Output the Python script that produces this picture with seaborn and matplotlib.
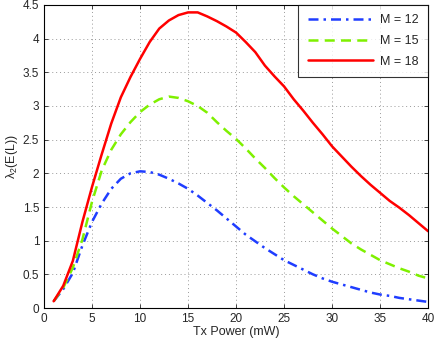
import numpy as np
import pandas as pd
import seaborn as sns
import matplotlib
matplotlib.use("Agg")
import matplotlib.pyplot as plt

# Tx power (mW)
tx_power = list(range(1, 41))

m12 = [0.10, 0.28, 0.52, 0.93, 1.28, 1.55, 1.77, 1.92, 2.00, 2.03,
       2.02, 1.98, 1.92, 1.85, 1.77, 1.67, 1.56, 1.45, 1.33, 1.21,
       1.09, 0.99, 0.89, 0.80, 0.71, 0.64, 0.57, 0.50, 0.44, 0.39,
       0.35, 0.31, 0.27, 0.23, 0.20, 0.18, 0.15, 0.13, 0.11, 0.09]

m15 = [0.10, 0.30, 0.60, 1.02, 1.58, 2.04, 2.35, 2.58, 2.76, 2.91,
       3.02, 3.10, 3.14, 3.12, 3.07, 3.00, 2.90, 2.76, 2.63, 2.51,
       2.37, 2.22, 2.08, 1.93, 1.79, 1.66, 1.54, 1.42, 1.30, 1.18,
       1.07, 0.96, 0.87, 0.79, 0.71, 0.65, 0.59, 0.54, 0.48, 0.44]

m18 = [0.10, 0.33, 0.70, 1.28, 1.80, 2.28, 2.74, 3.13, 3.43, 3.70,
       3.95, 4.15, 4.27, 4.35, 4.39, 4.39, 4.33, 4.26, 4.18, 4.09,
       3.95, 3.80, 3.60, 3.44, 3.29, 3.10, 2.93, 2.75, 2.58, 2.40,
       2.25, 2.10, 1.96, 1.83, 1.71, 1.59, 1.49, 1.38, 1.26, 1.14]

labels = ["M = 12", "M = 15", "M = 18"]

df = pd.DataFrame({
    "x": tx_power * 3,
    "y": m12 + m15 + m18,
    "M": [labels[0]] * 40 + [labels[1]] * 40 + [labels[2]] * 40,
})

sns.set_style("white")
plt.rcParams["font.family"] = ["Liberation Sans", "DejaVu Sans"]
plt.rcParams["mathtext.fontset"] = "custom"
plt.rcParams["mathtext.rm"] = "Liberation Sans"
plt.rcParams["mathtext.it"] = "Liberation Sans"

fig = plt.figure(figsize=(4.36, 3.42), dpi=100)
ax = fig.add_axes([0.101, 0.0994, 0.881, 0.886])

palette = {labels[0]: "#1f3dff", labels[1]: "#7ff000", labels[2]: "#ff0000"}
dashes = {labels[0]: (4, 2, 1, 2), labels[1]: (4, 2.5), labels[2]: ""}
sns.lineplot(data=df, x="x", y="y", hue="M", style="M", palette=palette,
             dashes=dashes, linewidth=1.8, ax=ax)

ax.set_xlim(0, 40)
ax.set_ylim(0, 4.5)
ax.set_xticks(np.arange(0, 41, 5))
ax.set_yticks(np.arange(0, 4.51, 0.5))
ax.set_yticklabels(["0", "0.5", "1", "1.5", "2", "2.5", "3", "3.5", "4", "4.5"])
ax.grid(True, linestyle=(0, (1, 3)), color="#999999", linewidth=0.7)
ax.tick_params(direction="in", length=3, labelsize=8.5, top=True, right=True,
               bottom=True, left=True, width=0.6)
for s in ax.spines.values():
    s.set_color("black")
    s.set_linewidth(0.8)

ax.set_xlabel("Tx Power (mW)", fontsize=9, labelpad=1)
ax.set_ylabel("λ$_2$(E(L))", fontsize=9, labelpad=2)

leg = ax.legend(loc="upper right", fontsize=9, handlelength=5.2,
                handletextpad=0.6, borderaxespad=0.0, frameon=True,
                fancybox=False, labelspacing=0.7, borderpad=0.75)
leg.get_frame().set_edgecolor("black")
leg.get_frame().set_linewidth(0.8)

fig.savefig("out.png", dpi=100)
